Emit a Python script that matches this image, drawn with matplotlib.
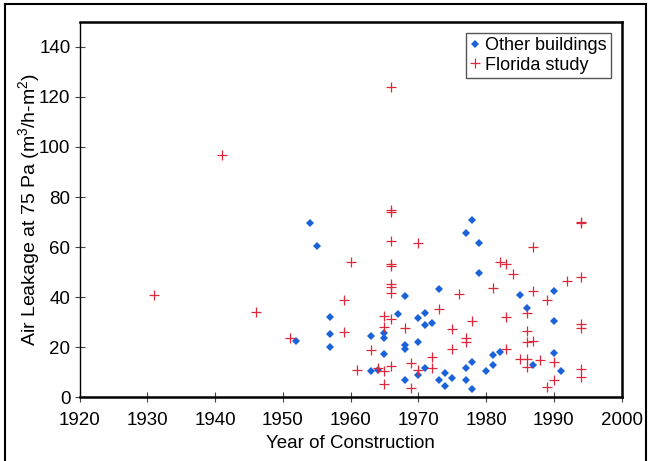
import numpy as np
import matplotlib.pyplot as plt
from matplotlib.lines import Line2D

plt.rcParams['font.family'] = ['Liberation Sans', 'DejaVu Sans']
plt.rcParams['mathtext.default'] = 'regular'

# other buildings (blue diamonds)
other_year = [1952, 1954, 1955, 1957, 1957, 1957, 1963, 1963, 1964, 1965, 1965, 1965,
              1967, 1968, 1968, 1968, 1968, 1970, 1970, 1970, 1971, 1971, 1971, 1972,
              1973, 1973, 1974, 1974, 1975, 1977, 1977, 1977, 1978, 1978, 1978, 1979,
              1979, 1980, 1981, 1981, 1982, 1985, 1986, 1987, 1990, 1990, 1990, 1991]
other_leak = [22.5, 69.6, 60.5, 32.0, 25.5, 20.2, 24.5, 10.6, 11.1, 25.9, 23.6, 17.2,
              33.1, 40.6, 21.1, 19.2, 6.8, 31.8, 22.0, 8.9, 33.7, 28.8, 11.8, 29.6,
              43.4, 6.8, 9.7, 4.4, 7.8, 65.6, 11.8, 6.8, 70.8, 14.3, 3.4, 61.8,
              49.8, 10.7, 17.1, 13.1, 18.3, 40.8, 35.8, 12.9, 42.4, 30.4, 17.8, 10.6]

# Florida study (red plus)
florida_year = [1931, 1941, 1946, 1951, 1959, 1959, 1960, 1961, 1963, 1964, 1965, 1965,
                1965, 1965, 1966, 1966, 1966, 1966, 1966, 1966, 1966, 1966, 1966, 1966,
                1966, 1968, 1969, 1969, 1970, 1970, 1972, 1972, 1973, 1975, 1975, 1976,
                1977, 1977, 1978, 1981, 1982, 1983, 1983, 1983, 1984, 1985, 1986, 1986,
                1986, 1986, 1986, 1987, 1987, 1987, 1988, 1989, 1989, 1990, 1990, 1992,
                1994, 1994, 1994, 1994, 1994, 1994, 1994]
florida_leak = [41.0, 96.9, 34.2, 23.6, 38.7, 26.1, 54.2, 11.1, 18.8, 11.8, 32.3, 28.0,
                10.6, 5.4, 124.0, 74.8, 74.1, 62.3, 53.2, 52.5, 45.2, 44.1, 41.6, 31.4,
                12.5, 27.7, 13.7, 3.8, 61.6, 11.1, 16.2, 11.8, 35.1, 27.3, 19.5, 41.2,
                23.6, 22.1, 30.4, 43.7, 54.2, 53.4, 32.0, 19.5, 49.4, 15.2, 33.7, 26.4,
                22.1, 15.2, 12.2, 60.2, 42.6, 22.5, 14.8, 38.7, 4.0, 14.3, 7.0, 46.5,
                70.0, 69.5, 48.0, 29.4, 27.7, 11.3, 8.2]

blue = '#1a62d8'
red = '#e0283c'

fig = plt.figure(figsize=(6.55, 4.61), dpi=100)
ax = fig.add_axes([0.1214, 0.138, 0.8275, 0.815])

ax.plot(other_year, other_leak, 'D', color=blue, ms=4, mew=0, ls='none',
        label='Other buildings')
ax.plot(florida_year, florida_leak, '+', color=red, ms=6.5, mew=0.9, ls='none',
        label='Florida study')

ax.set_xlim(1920, 2000)
ax.set_ylim(0, 150)
ax.set_xticks(np.arange(1920, 2001, 10))
ax.set_yticks(np.arange(0, 141, 20))
ax.tick_params(direction='inout', length=7, width=0.8, labelsize=13.5, color='#444444')
ax.tick_params(axis='x', pad=7)
ax.tick_params(axis='y', pad=3)
for s in ax.spines.values():
    s.set_linewidth(1.8)
ax.spines['left'].set_linewidth(1.0)

ax.set_xlabel('Year of Construction', fontsize=13.5, labelpad=4)
ax.set_ylabel('Air Leakage at 75 Pa (m$^{3}$/h-m$^{2}$)', fontsize=14, labelpad=-2)

leg = ax.legend(loc='upper right', fontsize=13, handlelength=0.5, handletextpad=0.3,
                borderpad=0.25, labelspacing=0.15, fancybox=False, framealpha=1,
                edgecolor='#555555', borderaxespad=0.6)
leg.get_frame().set_linewidth(1.0)

# outer frame of the picture
fl = dict(transform=fig.transFigure, color='black', lw=1.5)
fig.lines.append(Line2D([5/655, 646/655], [1 - 4/461, 1 - 4/461], **fl))
fig.lines.append(Line2D([5/655, 5/655], [0, 1 - 4/461], **fl))
fig.lines.append(Line2D([646/655, 646/655], [0, 1 - 4/461], **fl))

fig.savefig('out.png', dpi=100)
